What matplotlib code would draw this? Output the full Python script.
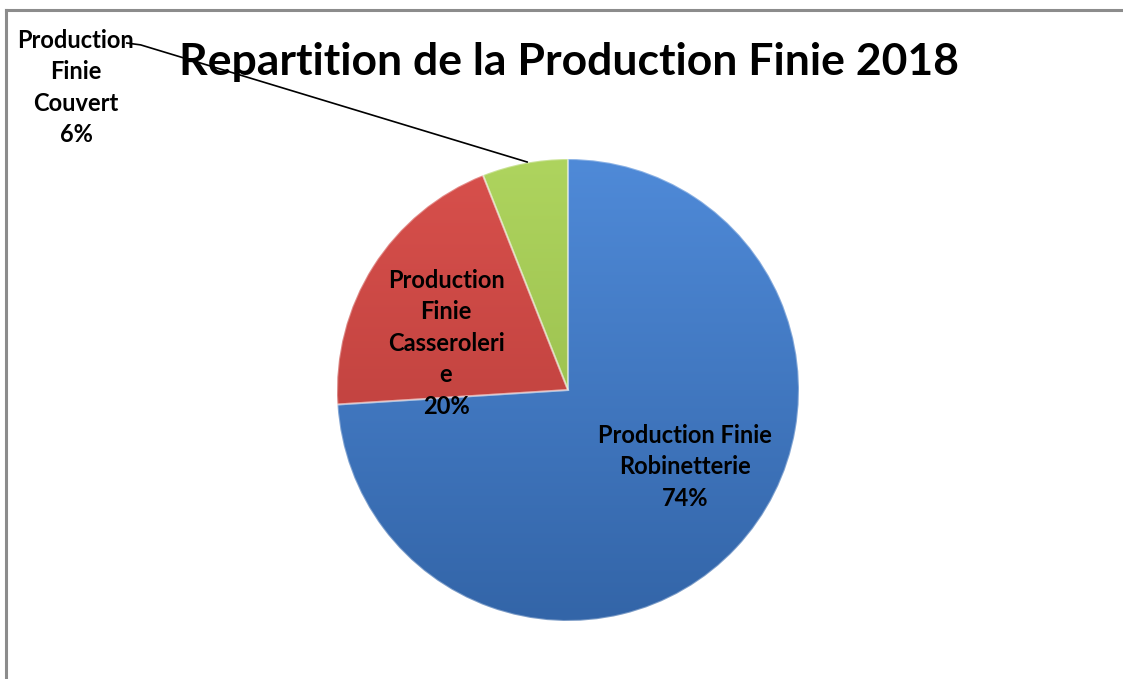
import matplotlib.pyplot as plt
import matplotlib.colors as mcolors
import numpy as np

# data
labels = ["Production Finie\nRobinetterie", "Production\nFinie\nCasseroleri\ne", "Production\nFinie\nCouvert"]
shares = [74, 20, 6]
top_colors = ["#4f8ad8", "#d8504c", "#aed45e"]
bottom_colors = ["#3365a8", "#b23a37", "#8fb345"]
title = "Repartition de la Production Finie 2018"

plt.rcParams['font.family'] = ['Lato', 'DejaVu Sans']

fig = plt.figure(figsize=(11.23, 6.79), dpi=100)
fig.patch.set_facecolor('white')

# chart frame (gray border, cut by the image edges on right and bottom)
fig.add_artist(plt.Line2D([5.5/1123, 5.5/1123], [0, 1 - 9.5/679], color='#8c8c8c', lw=2.2))
fig.add_artist(plt.Line2D([5.5/1123, 1], [1 - 9.5/679, 1 - 9.5/679], color='#8c8c8c', lw=2.2))

# pie: centre (568, 390) px, radius 231 px
cx, cy, r, half = 568, 390, 231, 240
ax = fig.add_axes([(cx - half)/1123, (679 - cy - half)/679, 2*half/1123, 2*half/679])

wedges, _ = ax.pie(shares, startangle=90, counterclock=False, colors=top_colors,
                   wedgeprops=dict(edgecolor='none'))

lim = half / r
ax.set_xlim(-lim, lim)
ax.set_ylim(-lim, lim)
ax.set_aspect('equal')
ax.axis('off')

# simple vertical gradient inside each wedge
grad = np.linspace(0, 1, 256).reshape(-1, 1)
for w, c1, c2 in zip(wedges, top_colors, bottom_colors):
    cmap = mcolors.LinearSegmentedColormap.from_list('g', [c2, c1])
    im = ax.imshow(grad, extent=[-1, 1, -1, 1], origin='lower', cmap=cmap,
                   aspect='auto', zorder=w.get_zorder() + 0.1)
    im.set_clip_path(w)
    w.set_facecolor('none')
    w.set_edgecolor((1, 1, 1, 0.35))
    w.set_linewidth(1.5)
    w.set_zorder(im.get_zorder() + 0.1)

ax.set_xlim(-lim, lim)
ax.set_ylim(-lim, lim)

fs = 17
ax.text(0.506, -0.333, f"{labels[0]}\n{shares[0]}%", ha='center', va='center',
        fontsize=fs, fontweight='bold', linespacing=1.45, zorder=10)
ax.text(-0.528, 0.203, f"{labels[1]}\n{shares[1]}%", ha='center', va='center',
        fontsize=fs, fontweight='bold', linespacing=1.45, zorder=10)
ax.text(-2.13, 1.31, f"{labels[2]}\n{shares[2]}%", ha='center', va='center',
        fontsize=fs, fontweight='bold', linespacing=1.45, zorder=10, clip_on=False)

# leader line for the small slice
ax.plot([-1.91, -1.85, -0.177], [1.502, 1.494, 0.987], color='black', lw=1.2,
        clip_on=False, zorder=9)

fig.text(569/1123, 1 - 62/679, title, ha='center', va='center',
         fontsize=32, fontweight='bold')

fig.savefig('out.png', dpi=100)
